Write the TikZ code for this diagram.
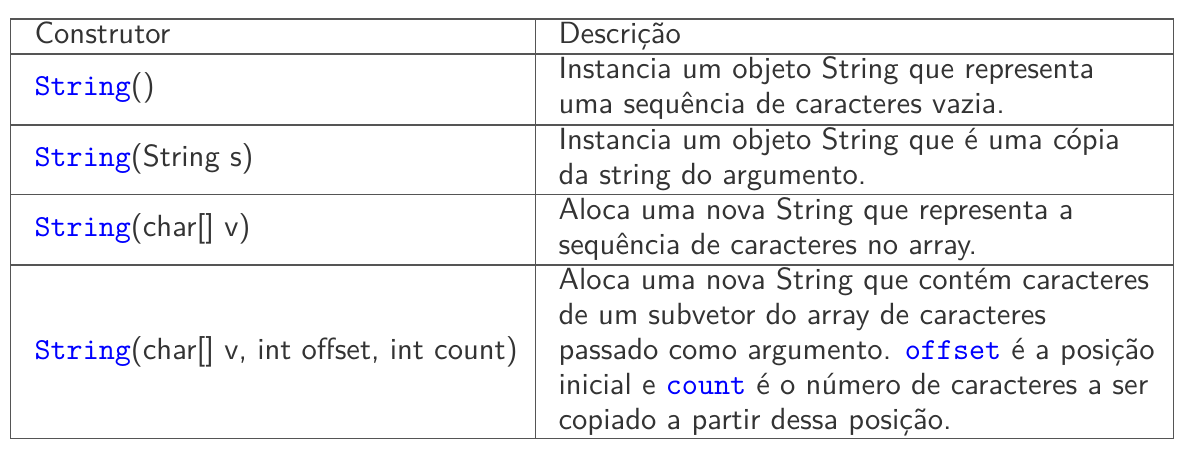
\documentclass[tikz,border=0pt]{standalone}
\usepackage{xcolor}
\definecolor{txt}{HTML}{333333}
\definecolor{rulec}{HTML}{555555}
\definecolor{codec}{RGB}{0,0,255}
\newcommand{\kw}[1]{\textcolor{codec}{\ttfamily #1}}
\begin{document}
\begin{tikzpicture}[x=0.3448pt,y=-0.3448pt,
  dcell/.style={anchor=north west, inner sep=0pt, align=left, text=txt, font=\sffamily\fontsize{10.55}{12}\selectfont},
  lcell/.style={anchor=base west, inner sep=0pt, text=txt, font=\sffamily\fontsize{10.55}{12}\selectfont},
  gridline/.style={draw=rulec, line width=0.5pt}]
\useasboundingbox (0,0) rectangle (1185,451);
% grid
\coordinate (tl) at (10.7,19);
\coordinate (br) at (1173.7,438.5);
\draw[gridline] (tl) rectangle (br);
\coordinate (c1) at (535.7,19);
\coordinate (c2) at (535.7,438.5);
\draw[gridline] (c1) -- (c2);
\foreach \yy/\nm in {54/a,125/b,194.5/c,265/d}{
  \coordinate (l\nm) at (10.7,\yy);
  \coordinate (r\nm) at (1173.7,\yy);
  \draw[gridline] (l\nm) -- (r\nm);
}
% header
\node[dcell] (h1) at (34,19) {\strut Construtor};
\node[dcell] (h2) at (558,19) {\strut Descrição};
% left column
\node[lcell] (k1) at (34,95.8) {\kw{String}()};
\node[lcell] (k2) at (34,166.8) {\kw{String}(String s)};
\node[lcell] (k3) at (34,236.3) {\kw{String}(char[] v)};
\node[lcell] (k4) at (34,359) {\kw{String}(char[] v, int offset, int count)};
% right column
\node[dcell] (d1) at (558,54) {\strut Instancia um objeto String que representa\\\strut uma sequência de caracteres vazia.};
\node[dcell] (d2) at (558,125) {\strut Instancia um objeto String que é uma cópia\\\strut da string do argumento.};
\node[dcell] (d3) at (558,194.5) {\strut Aloca uma nova String que representa a\\\strut sequência de caracteres no array.};
\node[dcell] (d4) at (558,265) {\strut Aloca uma nova String que contém caracteres\\\strut de um subvetor do array de caracteres\\\strut passado como argumento. \kw{offset} é a posição\\\strut inicial e \kw{count} é o número de caracteres a ser\\\strut copiado a partir dessa posição.};
\end{tikzpicture}
\end{document}
